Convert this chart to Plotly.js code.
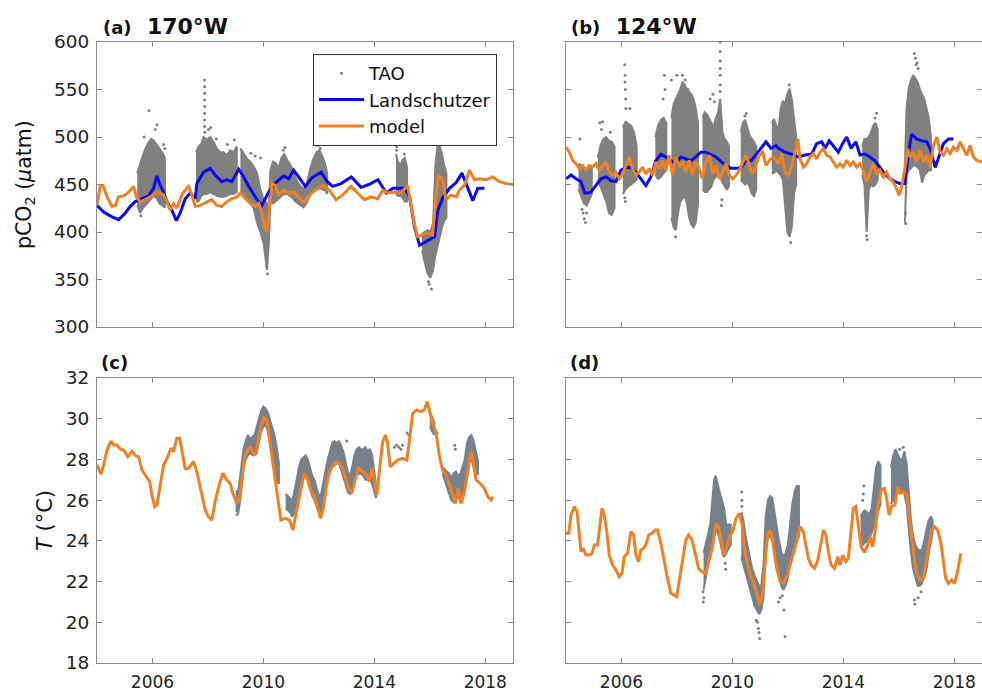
<!DOCTYPE html>
<html><head><meta charset="utf-8">
<script src="https://cdn.plot.ly/plotly-3.0.1.min.js"></script>
<style>html,body{margin:0;padding:0;background:#fff}#chart{width:982px;height:695px}</style>
</head><body><div id="chart"></div>
<script>
// ---------- tick labels ----------
const yearTicks = [2006, 2010, 2014, 2018];
const pco2Ticks = [300, 350, 400, 450, 500, 550, 600];
const tempTicks = [18, 20, 22, 24, 26, 28, 30, 32];

// ---------- (a) 170W pCO2 ----------
const landA_t = [2004.00,2004.24,2004.54,2004.78,2005.02,2005.20,2005.38,2005.62,2005.86,2006.04,2006.16,2006.28,2006.40,2006.52,2006.70,2006.86,2007.00,2007.18,2007.36,2007.54,2007.60,2007.84,2008.08,2008.26,2008.50,2008.68,2008.86,2009.11,2009.29,2009.47,2009.65,2009.77,2009.95,2010.15,2010.37,2010.55,2010.73,2010.91,2011.09,2011.27,2011.51,2011.75,2012.08,2012.30,2012.50,2012.80,2013.17,2013.52,2013.80,2014.13,2014.43,2014.67,2015.09,2015.27,2015.45,2015.63,2015.87,2016.17,2016.29,2016.47,2016.71,2016.95,2017.16,2017.37,2017.55,2017.73,2017.97];
const landA = [428,421,416,413,420,427,432,435,438,446,459,449,442,432,423,412,420,435,441,435,451,463,467,460,453,455,453,466,458,448,439,434,428,440,450,455,459,456,465,458,448,457,463,453,448,451,458,447,450,455,441,446,446,437,405,386,390,395,423,436,446,452,462,446,433,446,446];
const modelA_t = [2004.00,2004.12,2004.22,2004.36,2004.54,2004.66,2004.78,2004.96,2005.14,2005.32,2005.42,2005.56,2005.74,2005.92,2006.10,2006.28,2006.40,2006.52,2006.64,2006.76,2006.88,2007.06,2007.18,2007.30,2007.42,2007.54,2007.72,2007.96,2008.14,2008.32,2008.50,2008.68,2008.86,2009.04,2009.17,2009.35,2009.53,2009.71,2009.83,2009.95,2010.07,2010.13,2010.22,2010.31,2010.43,2010.55,2010.73,2010.91,2011.09,2011.27,2011.45,2011.78,2012.14,2012.38,2012.62,2012.86,2013.16,2013.40,2013.64,2013.88,2014.12,2014.30,2014.48,2014.72,2014.96,2015.20,2015.32,2015.44,2015.56,2015.74,2015.92,2016.10,2016.22,2016.32,2016.46,2016.58,2016.76,2016.95,2017.07,2017.25,2017.43,2017.61,2017.79,2018.03,2018.27,2018.51,2018.75,2019.01];
const modelA = [428,449,449,437,427,428,437,438,442,448,437,432,434,437,441,441,439,432,423,430,425,439,444,448,439,427,428,431,434,428,427,432,435,437,441,435,430,427,430,420,402,400,423,451,449,439,444,441,442,437,431,442,449,444,434,439,448,441,434,437,435,444,441,442,441,449,430,409,395,397,399,397,437,460,455,434,439,437,444,449,465,455,456,455,458,453,451,450];
const taoA_t  = [2005.45,2005.55,2005.65,2005.75,2005.85,2005.95,2006.05,2006.15,2006.25,2006.35,2006.45,
  2007.57,2007.66,2007.76,2007.84,2007.96,2008.08,2008.20,2008.32,2008.44,2008.56,2008.68,2008.80,2008.92,2009.04,2009.17,2009.29,2009.41,2009.53,2009.65,2009.77,2009.89,2010.01,2010.13,2010.20,
  2010.25,2010.35,2010.45,2010.55,2010.65,2010.75,2010.85,2010.95,2011.05,2011.15,2011.25,2011.35,2011.45,2011.55,2011.63,2011.72,2011.82,2011.92,2012.02,2012.12,2012.22,2012.30,
  2014.78,2014.86,2014.94,2015.02,2015.10,2015.18,
  2015.72,2015.82,2015.92,2016.02,2016.12,2016.20,2016.28,2016.36,2016.44,2016.52,2016.60];
const taoA_lo = [428,420,425,428,432,435,438,436,430,428,426,
  432,432,438,440,440,442,440,438,437,437,438,440,440,442,440,438,436,430,425,410,400,388,360,390,
  432,430,432,435,438,440,440,438,436,432,430,428,426,430,436,442,444,445,446,445,444,440,
  440,438,438,436,432,432,
  380,368,356,352,360,375,385,395,405,412,415];
const taoA_hi = [462,472,480,488,494,498,496,492,488,484,478,
  484,490,493,500,497,500,495,488,484,484,481,486,484,490,488,483,477,474,469,462,445,434,430,426,
  465,474,472,468,478,482,476,472,466,458,452,448,445,450,460,470,478,484,486,480,472,462,
  482,474,470,476,478,468,
  398,400,402,400,410,470,492,490,482,470,462];
const dotA_t = [2005.88,2006.16,2006.10,2005.70,2005.58,2006.40,2006.45,2007.88,2007.88,2007.88,2007.88,2007.88,2007.88,2007.88,2007.88,2007.89,2008.02,2008.10,2008.30,2008.70,2008.95,2009.55,2009.70,2009.90,2010.15,2010.12,2010.78,2010.72,2011.98,2012.05,2014.80,2014.80,2015.08,2015.98,2016.06,2015.95,2016.34,2016.30,2016.38];
const dotA_v = [528,513,508,500,417,492,488,560,553,546,539,532,525,518,511,505,508,510,498,492,497,483,480,478,356,364,489,486,491,488,490,486,482,345,340,348,508,500,498];

// ---------- (b) 124W pCO2 ----------
const landB_t = [2004.00,2004.18,2004.36,2004.54,2004.68,2004.80,2004.90,2005.08,2005.26,2005.44,2005.62,2005.80,2005.98,2006.16,2006.34,2006.52,2006.70,2006.88,2007.06,2007.24,2007.42,2007.60,2007.78,2007.96,2008.14,2008.32,2008.50,2008.68,2008.86,2009.04,2009.23,2009.41,2009.59,2009.77,2009.95,2010.13,2010.31,2010.49,2010.67,2010.85,2011.03,2011.21,2011.39,2011.57,2011.66,2011.90,2012.14,2012.38,2012.62,2012.86,2013.04,2013.22,2013.34,2013.49,2013.64,2013.82,2013.97,2014.12,2014.28,2014.45,2014.60,2014.78,2014.96,2015.14,2015.32,2015.50,2015.68,2015.86,2016.04,2016.22,2016.34,2016.46,2016.64,2016.82,2017.01,2017.13,2017.31,2017.43,2017.61,2017.79,2017.97];
const landB = [456,460,456,453,441,441,442,449,456,458,454,453,465,468,468,463,456,449,458,475,482,479,475,472,479,477,475,479,484,484,481,479,474,470,467,467,468,475,475,481,488,495,488,491,488,484,482,479,481,482,493,495,488,496,490,484,493,500,488,495,481,482,479,475,468,461,456,453,451,451,481,503,498,496,495,488,468,479,493,498,498];
const modelB_t = [2004.00,2004.12,2004.24,2004.36,2004.48,2004.60,2004.72,2004.84,2004.96,2005.08,2005.20,2005.32,2005.44,2005.56,2005.68,2005.80,2005.92,2006.04,2006.16,2006.28,2006.40,2006.52,2006.64,2006.76,2006.88,2007.00,2007.12,2007.24,2007.36,2007.48,2007.60,2007.72,2007.84,2007.96,2008.08,2008.20,2008.32,2008.44,2008.56,2008.68,2008.80,2008.92,2009.04,2009.17,2009.29,2009.41,2009.53,2009.65,2009.77,2009.89,2010.01,2010.13,2010.25,2010.37,2010.49,2010.61,2010.73,2010.85,2010.97,2011.09,2011.21,2011.33,2011.45,2011.54,2011.66,2011.78,2011.90,2012.02,2012.14,2012.26,2012.36,2012.44,2012.56,2012.68,2012.80,2012.92,2013.04,2013.16,2013.28,2013.40,2013.52,2013.64,2013.76,2013.88,2014.00,2014.12,2014.24,2014.36,2014.48,2014.60,2014.72,2014.84,2014.96,2015.08,2015.20,2015.32,2015.44,2015.56,2015.68,2015.80,2015.92,2016.01,2016.10,2016.22,2016.32,2016.40,2016.52,2016.64,2016.77,2016.89,2017.01,2017.13,2017.25,2017.37,2017.49,2017.61,2017.73,2017.85,2017.97,2018.09,2018.21,2018.33,2018.45,2018.57,2018.69,2018.81,2018.99];
const modelB = [489.5,484,475.4,472,466.7,470,465,470,468.4,472,465,470,473.7,463,459.6,463,456,461,470,479,466.7,459.6,463,468.4,461,466.7,459.6,473.7,466.7,475.4,465,480.7,459.6,479,468.4,473.7,463,475.4,459.6,473.7,466.7,456,473.7,480.7,461,470,456,463,472,459.6,456,459.6,465,473.7,480.7,470,461,470,480.7,484,470,475.4,479,477,472,482.5,463,459.6,470,484,498,477,468.4,472,479,482.5,477,484,487.7,480.7,479,473.7,468.4,472,468.4,475.4,470,473.7,468.4,472,465,452.6,463,472,461,465,457.9,463,456,452.6,445.6,438.6,447.4,466.7,487.7,479,484,473.7,486,473.7,480.7,468.4,491,500,484,480.7,487.7,482.5,489.5,486,494.7,487.7,480.7,491,479,475.4,473.7];
const taoB_t = [2004.45,2004.55,2004.65,2004.75,2004.85,2004.93,
  2005.15,2005.25,2005.35,2005.45,2005.55,2005.65,2005.75,
  2006.05,2006.15,2006.25,2006.35,2006.45,2006.55,
  2007.22,2007.32,2007.42,2007.52,2007.62,
  2007.80,2007.88,2007.96,2008.04,2008.12,2008.20,2008.28,2008.36,2008.44,2008.52,2008.60,2008.68,2008.76,
  2008.92,2009.00,2009.08,2009.16,2009.24,2009.32,2009.40,2009.48,2009.56,2009.64,2009.72,2009.80,2009.88,
  2010.30,2010.38,2010.46,2010.54,2010.62,2010.70,2010.78,2010.86,
  2011.42,2011.50,2011.58,2011.66,2011.74,2011.82,2011.90,2011.98,2012.06,2012.14,2012.22,2012.30,
  2014.68,2014.76,2014.84,2014.92,2015.00,2015.08,2015.16,2015.24,
  2016.22,2016.28,2016.36,2016.44,2016.52,2016.60,2016.68,2016.76,2016.84,2016.92,2017.00,2017.08,2017.16];
const taoB_lo = [445,438,430,428,435,440,
  455,448,440,432,420,418,425,
  440,445,448,450,452,455,
  460,456,458,462,465,
  415,405,402,420,432,435,438,430,415,408,405,410,430,
  445,442,442,445,448,455,458,460,458,452,448,445,448,
  455,452,450,452,448,440,438,445,
  462,462,465,462,460,455,430,400,395,405,440,450,
  460,450,400,445,450,448,450,455,
  410,460,465,468,470,470,468,465,452,460,462,465,465];
const taoB_hi = [472,470,466,462,468,470,
  478,492,498,500,496,495,490,
  510,516,514,512,505,490,
  500,512,518,520,515,
  520,535,540,545,550,558,555,550,548,545,540,530,515,
  520,526,524,520,515,510,520,525,540,505,498,495,490,
  505,515,518,510,502,498,495,490,
  515,519,512,508,530,538,535,545,551,540,520,500,
  490,498,498,500,505,512,515,508,
  470,530,552,560,565,562,558,550,545,540,530,520,500];
const dotB_t = [2004.50,2004.62,2004.66,2004.70,2004.58,2004.74,2005.22,2005.32,2005.28,2005.60,2006.12,2006.13,2006.13,2006.14,2006.15,2006.16,2006.12,2006.14,2006.30,2007.55,2007.50,2007.57,2007.80,2007.95,2008.00,2008.20,2008.30,2008.40,2008.60,2009.56,2009.56,2009.56,2009.56,2009.56,2009.56,2009.56,2009.20,2009.30,2009.35,2009.60,2009.62,2010.45,2010.50,2012.10,2012.05,2014.84,2014.86,2015.14,2015.20,2016.56,2016.60,2016.62,2016.70,2016.66,2016.25,2016.24];
const dotB_v = [498,420,414,410,424,420,515,516,508,505,576,565,558,550,540,530,436,432,530,565,540,550,560,395,565,565,560,550,535,600,590,580,572,565,555,548,540,545,537,428,434,522,525,389,555,396,392,520,525,588,583,576,572,578,409,420];

// ---------- (c) 170W temperature ----------
const modelC_t = [2004.00,2004.06,2004.14,2004.24,2004.36,2004.50,2004.60,2004.72,2004.84,2004.96,2005.11,2005.26,2005.38,2005.50,2005.62,2005.78,2005.90,2005.98,2006.08,2006.16,2006.28,2006.40,2006.50,2006.58,2006.67,2006.76,2006.88,2006.98,2007.06,2007.18,2007.30,2007.48,2007.60,2007.78,2007.90,2008.02,2008.14,2008.26,2008.42,2008.54,2008.68,2008.80,2008.92,2009.04,2009.14,2009.23,2009.31,2009.41,2009.53,2009.65,2009.74,2009.89,2010.03,2010.13,2010.25,2010.37,2010.49,2010.63,2010.79,2010.94,2011.06,2011.21,2011.35,2011.47,2011.60,2011.72,2011.84,2011.96,2012.06,2012.16,2012.28,2012.40,2012.52,2012.62,2012.74,2012.86,2012.98,2013.10,2013.20,2013.32,2013.44,2013.58,2013.73,2013.82,2013.92,2014.00,2014.09,2014.18,2014.30,2014.40,2014.48,2014.57,2014.69,2014.84,2015.02,2015.17,2015.26,2015.38,2015.53,2015.68,2015.80,2015.90,2015.98,2016.10,2016.22,2016.34,2016.46,2016.59,2016.71,2016.83,2016.92,2017.02,2017.13,2017.25,2017.37,2017.49,2017.57,2017.67,2017.81,2017.97,2018.09,2018.21,2018.27];
const modelC = [27.73,27.56,27.27,27.73,28.46,28.9,28.71,28.71,28.5,28.46,28.14,28.41,28.19,28.14,27.48,27.15,26.91,26.25,25.68,25.76,26.74,27.73,27.97,28.22,28.55,28.38,29.04,29.04,28.38,27.56,27.56,27.89,27.4,26.25,25.52,25.19,25.02,25.93,26.83,27.32,26.99,26.83,26.25,25.84,26.09,27.07,28.05,28.38,28.63,28.22,28.38,29.53,30.1,29.86,28.71,27.56,26.42,25.02,25.11,25.02,24.53,25.6,26.58,27.32,26.99,26.42,26.17,25.52,25.11,25.6,26.74,27.48,27.73,27.89,27.81,27.56,26.99,26.5,26.42,27.07,27.56,27.4,27.23,26.91,27.56,26.99,26.25,27.4,28.87,29.2,28.79,27.64,27.81,27.97,28.05,27.97,28.87,30.26,30.43,30.35,30.43,30.84,30.43,29.77,29.36,28.22,27.48,27.23,26.74,26.17,25.84,26.58,25.84,26.42,27.4,28.38,27.89,26.99,26.83,26.58,26.17,26.01,26.17];
const taoC_t = [2009.00,2009.10,2009.20,2009.28,2009.36,2009.44,2009.52,2009.60,2009.68,2009.76,2009.84,2009.92,2010.00,2010.08,2010.16,2010.24,2010.32,2010.40,2010.48,2010.56,
  2010.80,2010.88,2010.96,2011.04,2011.12,2011.20,2011.28,2011.36,2011.44,2011.52,2011.60,2011.68,2011.76,2011.84,2011.92,2012.00,2012.08,2012.16,2012.24,2012.32,2012.40,2012.48,2012.56,2012.64,2012.72,2012.80,2012.88,2012.96,2013.04,2013.12,2013.20,2013.28,2013.36,2013.44,2013.52,2013.60,2013.68,2013.76,2013.84,2013.92,2014.00,2014.06,
  2016.00,2016.08,2016.16,
  2016.46,2016.54,2016.62,2016.70,2016.78,2016.86,2016.94,2017.02,2017.10,2017.18,2017.26,2017.34,2017.42,2017.50,2017.58,2017.66,2017.74];
const taoC_lo = [25.5,25.4,26.4,27.6,28.0,28.2,28.3,28.2,28.2,28.3,28.9,29.4,29.6,29.7,29.4,28.8,28.2,27.6,27.0,26.8,
  25.6,25.5,25.4,25.2,25.4,25.8,26.4,26.9,27.3,27.4,27.0,26.6,26.2,26.0,25.7,25.5,25.4,25.8,26.6,27.0,27.4,27.6,27.7,27.8,27.8,27.5,27.2,26.8,26.4,26.3,26.4,26.9,27.2,27.3,27.3,27.2,27.0,27.0,27.0,26.8,26.4,26.1,
  29.6,29.4,29.2,
  27.3,27.0,26.6,26.3,26.0,25.9,26.0,26.3,25.9,26.2,26.5,27.2,27.8,28.0,27.6,27.2,27.3];
const taoC_hi = [26.4,26.5,27.6,28.5,28.9,29.2,29.0,29.1,29.2,29.6,30.0,30.4,30.6,30.5,30.3,29.9,29.5,29.2,28.6,27.8,
  26.3,26.2,26.1,25.9,26.4,27.0,27.6,28.0,28.1,28.2,28.0,27.6,27.2,27.0,26.6,26.2,26.3,26.9,27.5,28.0,28.4,28.8,28.9,28.8,28.9,28.7,28.4,27.8,27.4,27.2,27.6,28.2,28.5,28.6,28.5,28.5,28.6,28.4,28.5,28.2,27.4,26.8,
  30.3,30.1,29.8,
  27.6,27.5,27.4,27.3,27.1,27.3,27.4,27.2,27.3,27.6,28.0,28.8,29.1,29.2,28.9,28.4,27.9];
const dotC_t = [2014.72,2014.80,2014.88,2014.96,2015.02,2015.18,2015.24,2016.90,2016.92,2016.26,2009.05,2013.00];
const dotC_v = [28.6,28.7,28.6,28.5,28.7,29.3,29.2,28.7,28.5,29.3,25.3,28.9];

// ---------- (d) 124W temperature ----------
const modelD_t = [2004.00,2004.10,2004.18,2004.30,2004.40,2004.48,2004.54,2004.62,2004.72,2004.84,2004.94,2005.02,2005.14,2005.23,2005.30,2005.38,2005.47,2005.56,2005.68,2005.80,2005.92,2006.02,2006.10,2006.22,2006.34,2006.44,2006.52,2006.62,2006.70,2006.79,2006.88,2006.98,2007.10,2007.22,2007.30,2007.42,2007.54,2007.66,2007.78,2007.90,2007.99,2008.08,2008.20,2008.32,2008.42,2008.54,2008.66,2008.78,2008.90,2009.02,2009.11,2009.19,2009.29,2009.41,2009.50,2009.59,2009.67,2009.79,2009.89,2010.01,2010.13,2010.25,2010.34,2010.43,2010.55,2010.67,2010.79,2010.91,2010.99,2011.09,2011.18,2011.27,2011.35,2011.45,2011.52,2011.60,2011.72,2011.84,2011.96,2012.08,2012.20,2012.32,2012.44,2012.56,2012.65,2012.74,2012.84,2012.96,2013.08,2013.20,2013.28,2013.37,2013.46,2013.56,2013.68,2013.80,2013.88,2013.98,2014.09,2014.18,2014.27,2014.36,2014.45,2014.54,2014.64,2014.76,2014.88,2014.96,2015.06,2015.14,2015.24,2015.36,2015.48,2015.56,2015.65,2015.74,2015.86,2015.96,2016.04,2016.16,2016.29,2016.37,2016.46,2016.56,2016.66,2016.77,2016.89,2016.97,2017.07,2017.16,2017.28,2017.40,2017.52,2017.61,2017.69,2017.79,2017.91,2018.00,2018.09,2018.17,2018.24];
const modelD = [24.37,24.37,25.27,25.68,25.43,24.45,23.47,23.63,23.3,23.3,23.39,23.8,23.8,24.86,25.6,25.27,24.45,23.3,22.81,22.57,22.24,22.4,23.22,23.39,24.45,24.29,23.3,22.98,23.55,23.63,23.8,24.29,24.37,24.53,24.53,23.88,22.98,22.16,21.42,21.34,21.26,22.0,23.14,24.04,24.29,24.04,23.39,22.65,22.49,22.4,22.81,23.22,23.8,24.86,24.7,24.04,23.3,23.63,24.21,24.45,25.11,25.35,24.86,23.63,22.81,22.24,21.83,21.26,20.85,21.5,22.98,24.37,24.53,24.1,23.3,22.65,22.0,21.91,22.24,22.81,23.47,23.96,24.7,24.45,23.8,23.14,22.81,22.65,23.06,23.96,24.53,24.29,23.47,22.81,22.65,23.22,22.81,23.3,22.98,23.14,24.45,25.6,25.68,24.78,23.71,23.44,23.8,24.21,23.71,24.45,25.6,26.5,26.58,26.09,25.27,25.68,25.76,26.66,26.33,26.42,26.25,25.27,24.12,23.14,22.32,22.08,22.16,22.81,23.8,24.45,24.7,24.53,23.88,22.98,22.16,21.91,22.08,21.91,22.32,22.9,23.39];
const taoD_t = [2008.96,2009.04,2009.12,2009.20,2009.28,2009.34,2009.40,2009.46,2009.52,2009.58,2009.64,2009.70,2009.78,2009.86,2009.94,
  2010.32,2010.40,2010.48,2010.56,2010.64,2010.72,2010.80,2010.88,2010.96,2011.04,2011.12,
  2011.20,2011.28,2011.36,2011.44,2011.52,2011.60,2011.68,2011.76,2011.84,2011.92,2012.00,2012.08,2012.16,2012.24,2012.32,2012.40,
  2014.62,2014.70,2014.78,2014.86,2014.94,2015.02,2015.10,2015.18,2015.26,2015.34,
  2015.72,2015.80,2015.88,2015.96,2016.04,2016.12,2016.20,2016.28,2016.36,2016.44,2016.52,2016.60,2016.68,2016.76,2016.84,2016.92,2017.00,2017.08,2017.16,2017.22];
const taoD_lo = [21.6,22.2,22.8,23.2,23.6,24.2,24.6,24.4,24.2,23.8,23.4,23.2,23.4,23.6,23.8,
  23.2,22.8,22.4,22.0,21.6,21.2,20.8,20.6,20.4,20.6,21.2,
  23.5,24.2,24.2,24.0,23.6,23.0,22.4,21.8,21.6,21.8,22.2,23.0,23.6,23.8,24.0,24.2,
  24.0,23.8,23.9,24.0,24.1,24.4,24.8,25.2,25.5,25.8,
  25.8,26.0,26.4,26.6,26.4,26.5,26.3,25.8,24.6,23.4,22.6,22.2,21.8,21.8,22.0,22.2,22.6,23.4,24.0,24.4];
const taoD_hi = [23.4,23.8,24.3,24.8,25.9,27.0,27.2,26.8,26.5,26.2,25.9,25.6,24.8,24.8,24.8,
  25.4,25.0,24.2,23.6,23.2,22.6,22.3,22.0,21.8,21.8,22.8,
  25.2,26.0,26.2,26.1,25.4,24.6,24.0,23.5,23.2,23.4,23.8,24.8,25.8,26.4,26.7,26.7,
  25.2,25.4,25.5,25.4,25.3,25.6,26.8,27.6,27.9,27.7,
  27.6,28.2,28.5,28.2,28.0,28.0,28.4,27.8,26.4,25.0,24.2,23.8,23.6,23.5,23.6,24.0,24.6,25.0,25.2,25.0];
const dotD_t = [2008.95,2008.97,2008.94,2009.74,2009.76,2010.34,2010.34,2010.34,2010.90,2010.94,2010.98,2010.96,2010.86,2011.72,2011.80,2011.86,2011.90,2011.66,2014.72,2014.74,2014.70,2016.56,2016.58,2016.70,2016.80,2016.82,2016.04,2016.16];
const dotD_v = [21.0,21.2,21.5,22.9,22.6,26.4,26.0,25.7,20.0,19.7,19.2,19.5,20.1,21.2,21.3,20.6,19.3,21.0,26.3,26.7,26.0,21.1,20.9,21.2,21.5,21.9,28.5,28.6];

// ---------- styles ----------
const GRAY = '#808080';
const GRAY_T = '#77818c';
const BLUE = '#0a0af0';
const ORANGE = '#ef8024';
const FONT = 'DejaVu Sans';

// Closed envelope per contiguous run of TAO samples (upper edge forward, lower edge back).
function cloud(t, lo, hi, xa, ya, color) {
  const x = [], y = [];
  let start = 0;
  for (let i = 1; i <= t.length; i++) {
    if (i === t.length || t[i] - t[i - 1] > 0.13) {
      for (let j = start; j < i; j++) { x.push(t[j]); y.push(hi[j]); }
      for (let j = i - 1; j >= start; j--) { x.push(t[j]); y.push(lo[j]); }
      x.push(null); y.push(null);
      start = i;
    }
  }
  return {type:'scatter', mode:'lines', x:x, y:y, xaxis:xa, yaxis:ya, fill:'toself', fillcolor:color,
          line:{color:color, width:2}, showlegend:false, hoverinfo:'skip', connectgaps:false};
}
function dots(t, v, xa, ya, color, name, show) {
  return {type:'scatter', mode:'markers', x:t, y:v, xaxis:xa, yaxis:ya, name:name, showlegend:show,
          marker:{color:color, size:3}, hoverinfo:'skip'};
}
function line(t, v, xa, ya, color, name, show) {
  return {type:'scatter', mode:'lines', x:t, y:v, xaxis:xa, yaxis:ya, name:name, showlegend:show,
          line:{color:color, width:3}, hoverinfo:'skip'};
}

const traces = [
  cloud(taoA_t, taoA_lo, taoA_hi, 'x', 'y', GRAY),
  dots(dotA_t, dotA_v, 'x', 'y', GRAY, 'TAO', true),
  line(landA_t, landA, 'x', 'y', BLUE, 'Landschutzer', true),
  line(modelA_t, modelA, 'x', 'y', ORANGE, 'model', true),
  cloud(taoB_t, taoB_lo, taoB_hi, 'x2', 'y2', GRAY),
  dots(dotB_t, dotB_v, 'x2', 'y2', GRAY, 'TAO', false),
  line(landB_t, landB, 'x2', 'y2', BLUE, 'Landschutzer', false),
  line(modelB_t, modelB, 'x2', 'y2', ORANGE, 'model', false),
  cloud(taoC_t, taoC_lo, taoC_hi, 'x3', 'y3', GRAY_T),
  dots(dotC_t, dotC_v, 'x3', 'y3', GRAY_T, 'TAO', false),
  line(modelC_t, modelC, 'x3', 'y3', ORANGE, 'model', false),
  cloud(taoD_t, taoD_lo, taoD_hi, 'x4', 'y4', GRAY_T),
  dots(dotD_t, dotD_v, 'x4', 'y4', GRAY_T, 'TAO', false),
  line(modelD_t, modelD, 'x4', 'y4', ORANGE, 'model', false)
];

const W = 982, H = 695;
const px = v => v / W, py = v => 1 - v / H;
const LEFT = [px(97), px(513)], RIGHT = [px(566), 1];
const TOP = [py(327), py(42)], BOT = [py(663), py(378)];

function xax(dom, anchor, labels) {
  return {domain:dom, anchor:anchor, range:[2004, 2019], tickvals:yearTicks, ticktext:yearTicks.map(String),
    showticklabels:labels, ticks:'inside', ticklen:5, tickcolor:'#8a8a8a', showline:true, linecolor:'#8a8a8a',
    linewidth:1, mirror:'ticks', showgrid:false, zeroline:false, ticklabelstandoff:4,
    tickfont:{family:FONT, size:17, color:'#222'}};
}
function yax(dom, anchor, range, ticks, labels) {
  return {domain:dom, anchor:anchor, range:range, tickvals:ticks, ticktext:ticks.map(String),
    showticklabels:labels, ticks:'inside', ticklen:5, tickcolor:'#8a8a8a', showline:true, linecolor:'#8a8a8a',
    linewidth:1, mirror:'ticks', showgrid:false, zeroline:false, ticklabelstandoff:3,
    tickfont:{family:FONT, size:18.5, color:'#222'}};
}

const ann = (x, y, text, size, extra) => Object.assign({xref:'paper', yref:'paper', x:x, y:y, text:text,
  showarrow:false, xanchor:'left', yanchor:'middle', font:{family:FONT, size:size, color:'#111'}}, extra || {});

const layout = {
  width:W, height:H, autosize:false, margin:{l:0, r:0, t:0, b:0},
  paper_bgcolor:'#fff', plot_bgcolor:'#fff', font:{family:FONT, color:'#222'},
  xaxis: xax(LEFT, 'y', false),
  yaxis: yax(TOP, 'x', [300, 600], pco2Ticks, true),
  xaxis2: xax(RIGHT, 'y2', false),
  yaxis2: yax(TOP, 'x2', [300, 600], pco2Ticks, false),
  xaxis3: xax(LEFT, 'y3', true),
  yaxis3: yax(BOT, 'x3', [18, 32], tempTicks, true),
  xaxis4: xax(RIGHT, 'y4', true),
  yaxis4: yax(BOT, 'x4', [18, 32], tempTicks, false),
  legend:{x:px(313), y:py(54), xanchor:'left', yanchor:'top', bgcolor:'#fff', bordercolor:'#333', borderwidth:1,
    font:{family:FONT, size:18, color:'#111'}, itemwidth:45, tracegroupgap:0},
  annotations:[
    ann(px(101), py(26), "<b><span style='font-size:18px'>(a)</span>\u00a0\u00a0170°W</b>", 22),
    ann(px(569), py(26), "<b><span style='font-size:18px'>(b)</span>\u00a0\u00a0124°W</b>", 22),
    ann(px(99), py(362), "<b>(c)</b>", 18),
    ann(px(568), py(362), "<b>(d)</b>", 18),
    ann(px(25), py(185), "pCO<sub>2</sub> (<i>μ</i>atm)", 20.5, {xanchor:'center', textangle:-90}),
    ann(px(45), py(521), "<i>T</i> (°C)", 21, {xanchor:'center', textangle:-90})
  ]
};

Plotly.newPlot('chart', traces, layout, {staticPlot:true, displayModeBar:false});
</script>
</body></html>
